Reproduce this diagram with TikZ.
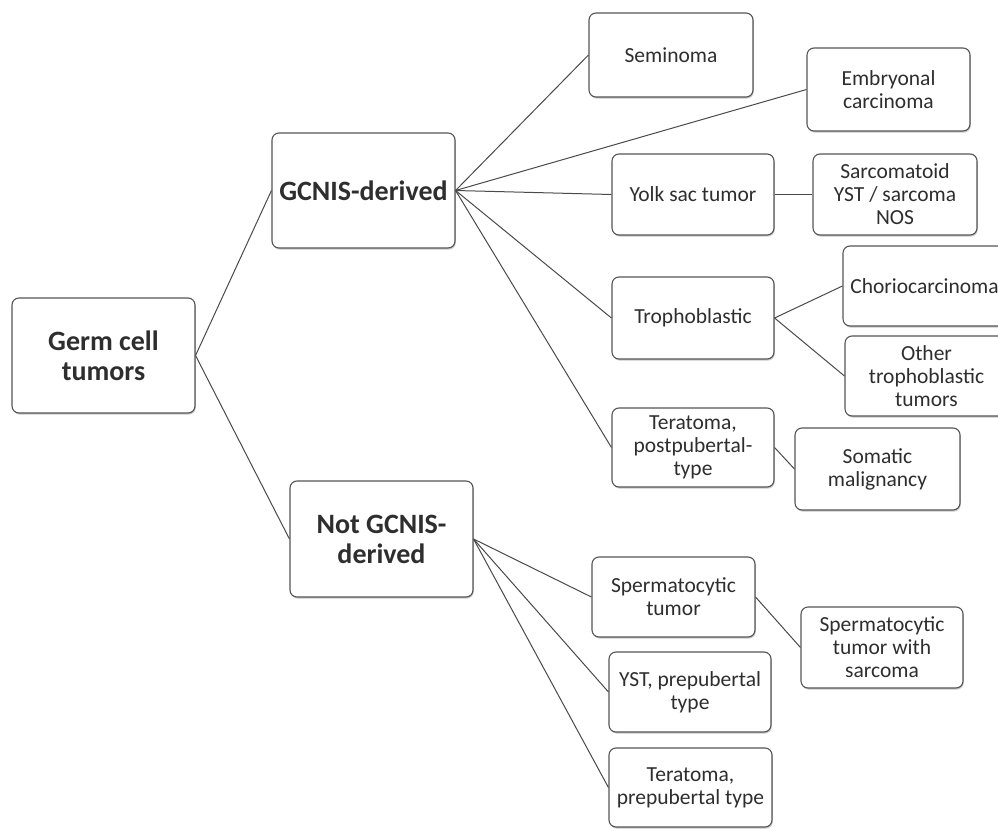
\documentclass[tikz,border=0pt]{standalone}
\usepackage{fontspec}
\setmainfont{Carlito}
\usetikzlibrary{shadows}
\definecolor{boxline}{HTML}{555555}
\definecolor{txt}{HTML}{2E2E2E}
\definecolor{conn}{HTML}{4A4A4A}
\begin{document}
\begin{tikzpicture}[x=1pt,y=-1pt,
  box/.style={draw=boxline, line width=1.1pt, rounded corners=7pt, fill=white,
    align=center, inner sep=0pt, text=txt,
    drop shadow={shadow xshift=0.8pt, shadow yshift=-1.6pt, opacity=0.3, fill=black!70}},
  smallbox/.style={box, font=\fontsize{21.5}{23}\selectfont},
  bigbox/.style={box, font=\fontsize{28}{30}\selectfont\bfseries},
  link/.style={draw=conn, line width=1pt}]
\useasboundingbox (0,0) rectangle (998,829);
\clip (0,0) rectangle (998,829);
\fill[white] (0,0) rectangle (998,829);

\node[bigbox, minimum width=183pt, minimum height=115pt] (germ) at (103.5,355.5) {Germ cell\\tumors};
\node[bigbox, minimum width=183pt, minimum height=115pt] (gcnis) at (363.5,190.5) {GCNIS-derived};
\node[bigbox, minimum width=183pt, minimum height=116pt] (notg) at (381.5,539) {Not GCNIS-\\derived};

\node[smallbox, minimum width=164pt, minimum height=84pt] (sem) at (671,55) {Seminoma};
\node[smallbox, minimum width=163pt, minimum height=83pt] (emb) at (888.5,89.5) {Embryonal\\carcinoma};
\node[smallbox, minimum width=162pt, minimum height=81pt] (yolk) at (693,194.5) {Yolk sac tumor};
\node[smallbox, minimum width=164pt, minimum height=81pt] (sarc) at (895,194.5) {Sarcomatoid\\YST / sarcoma\\NOS};
\node[smallbox, minimum width=162pt, minimum height=82pt] (troph) at (693,318) {Trophoblastic};
\node[smallbox, minimum width=163pt, minimum height=80pt] (chorio) at (924.5,286) {Choriocarcinoma};
\node[smallbox, minimum width=163pt, minimum height=80pt] (other) at (926.5,376) {Other\\trophoblastic\\tumors};
\node[smallbox, minimum width=162pt, minimum height=79pt] (terpost) at (693,447.5) {Teratoma,\\postpubertal-\\type};
\node[smallbox, minimum width=165pt, minimum height=82pt] (somatic) at (877.5,469) {Somatic\\malignancy};
\node[smallbox, minimum width=163pt, minimum height=80pt] (sperm) at (673.5,597) {Spermatocytic\\tumor};
\node[smallbox, minimum width=162pt, minimum height=81pt] (sws) at (882,647.5) {Spermatocytic\\tumor with\\sarcoma};
\node[smallbox, minimum width=162pt, minimum height=80pt] (yst) at (690,692) {YST, prepubertal\\type};
\node[smallbox, minimum width=163pt, minimum height=79pt] (terpre) at (690.5,787.5) {Teratoma,\\prepubertal type};

\draw[link] (germ.east) -- (gcnis.west);
\draw[link] (germ.east) -- (notg.west);
\draw[link] (gcnis.east) -- (sem.west);
\draw[link] (gcnis.east) -- (emb.west);
\draw[link] (gcnis.east) -- (yolk.west);
\draw[link] (gcnis.east) -- (troph.west);
\draw[link] (gcnis.east) -- (terpost.west);
\draw[link] (yolk.east) -- (sarc.west);
\draw[link] (troph.east) -- (chorio.west);
\draw[link] (troph.east) -- (other.west);
\draw[link] (terpost.east) -- (somatic.west);
\draw[link] (notg.east) -- (sperm.west);
\draw[link] (notg.east) -- (yst.west);
\draw[link] (notg.east) -- (terpre.west);
\draw[link] (sperm.east) -- (sws.west);
\end{tikzpicture}
\end{document}
